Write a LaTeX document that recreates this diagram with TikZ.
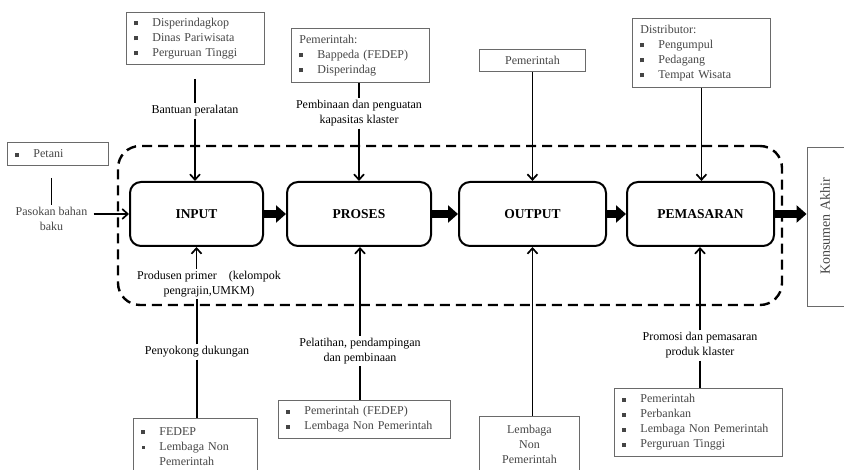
\documentclass[tikz,border=0pt]{standalone}
\usepackage{fontspec}
\setmainfont{Liberation Serif}
\usetikzlibrary{arrows.meta}
\definecolor{boxgray}{HTML}{6A6A6A}
\definecolor{txtgray}{HTML}{454545}
% square bullet and list item
\newcommand{\sqb}{\rule[1pt]{4pt}{4pt}}
\newcommand{\itm}[1]{\makebox[18pt][l]{\sqb}#1}
\newcommand{\itmsmall}[1]{\makebox[18pt][l]{\hspace*{0.5pt}\rule[1.5pt]{3pt}{3pt}}#1}
\begin{document}
\begin{tikzpicture}[x=1pt,y=-1pt,
  stage/.style={draw, line width=2pt, rounded corners=11pt, minimum height=64,
    font=\fontsize{13.5}{16}\selectfont\bfseries},
  infobox/.style={draw=boxgray, line width=0.9pt, text=txtgray,
    font=\fontsize{12}{15}\selectfont, align=left, inner xsep=8pt, inner ysep=2pt, anchor=north west},
  lbl/.style={font=\fontsize{12}{15}\selectfont, align=center, inner sep=2pt},
  conn/.style={line width=1.7pt},
  arr/.style={conn, -{Straight Barb[length=5.5pt,width=10pt]}},
  flow/.style={line width=8pt, -{Triangle[length=10pt 0 0,width=17pt 0 0]}},
  cluster/.style={draw, line width=2.4pt, dash pattern=on 10pt off 6pt, rounded corners=22pt},
]
\useasboundingbox (0,0) rectangle (844,470);

% cluster boundary
\node[cluster, minimum width=664, minimum height=159] (clu) at (450,225.5) {};

% value chain stages
\node[stage, minimum width=133] (inp) at (196.5,214) {INPUT};
\node[stage, minimum width=144] (pro) at (359,214) {PROSES};
\node[stage, minimum width=147] (out) at (532.5,214) {OUTPUT};
\node[stage, minimum width=147] (pem) at (700.5,214) {PEMASARAN};

% final consumer
\node[draw=boxgray, line width=0.9pt, minimum width=43, minimum height=159,
  font=\fontsize{14}{16}\selectfont, text=txtgray, inner sep=0pt] (kon) at (828.5,226.5)
  {\rotatebox{90}{Konsumen Akhir}\hspace*{7pt}};

% actor boxes above
\node[infobox, minimum width=138, minimum height=52, text width=122] (t1) at (126,12)
  {\itm{Disperindagkop}\\\itm{Dinas Pariwisata}\\\itm{Perguruan Tinggi}};
\node[infobox, minimum width=138, minimum height=54, text width=122] (t2) at (291,28)
  {Pemerintah:\\\itm{Bappeda (FEDEP)}\\\itm{Disperindag}};
\node[infobox, align=center, minimum width=106, minimum height=22, text width=90] (t3) at (479,49)
  {Pemerintah};
\node[infobox, minimum width=138, minimum height=69, text width=122] (t4) at (632,18)
  {Distributor:\\\itm{Pengumpul}\\\itm{Pedagang}\\\itm{Tempat Wisata}};

% supplier on the left
\node[infobox, minimum width=101, minimum height=23, text width=85, text=txtgray] (pet) at (7,142)
  {\itm{Petani}};
\node[lbl, text=txtgray] (pas) at (51.5,218.5) {Pasokan bahan\\baku};

% actor boxes below
\node[infobox, minimum width=124, minimum height=56, text width=108] (b1) at (133,418)
  {\itm{FEDEP}\\\itmsmall{Lembaga Non}\\\hspace*{18pt}Pemerintah};
\node[infobox, minimum width=172, minimum height=38, text width=156] (b2) at (278,400)
  {\itm{Pemerintah (FEDEP)}\\\itm{Lembaga Non Pemerintah}};
\node[infobox, align=center, minimum width=100, minimum height=56, text width=84] (b3) at (479,416)
  {Lembaga\\Non\\Pemerintah};
\node[infobox, minimum width=168, minimum height=68, text width=152] (b4) at (614,388)
  {\itm{Pemerintah}\\\itm{Perbankan}\\\itm{Lembaga Non Pemerintah}\\\itm{Perguruan Tinggi}};

% connector labels
\node[lbl] (l1) at (195,111) {Bantuan peralatan};
\node[lbl] (l2) at (359,113.5) {Pembinaan dan penguatan\\kapasitas klaster};
\node[lbl] (prod) at (209,284) {Produsen primer\hspace{12pt}(kelompok\\pengrajin,UMKM)};
\node[lbl] (peny) at (197,352) {Penyokong dukungan};
\node[lbl] (pel) at (360,351) {Pelatihan, pendampingan\\dan pembinaan};
\node[lbl] (prom) at (700,345.5) {Promosi dan pemasaran\\produk klaster};

% flows between stages
\draw[flow] (inp.east) -- (pro.west);
\draw[flow] (pro.east) -- (out.west);
\draw[flow] (out.east) -- (pem.west);
\draw[flow] (pem.east) -- (pem.east -| kon.west);

% support from above
\draw[conn, shorten <=14pt] (l1.north |- t1.south) -- (l1.north);
\draw[arr] (l1.south) -- (l1.south |- inp.north);
\draw[conn] (l2.north |- t2.south) -- (l2.north);
\draw[arr] (l2.south) -- (l2.south |- pro.north);
\draw[arr] (t3.south) -- (t3.south |- out.north);
\draw[arr] (t4.south) -- (t4.south |- pem.north);

% raw material supply
\draw[conn, shorten <=12pt] (pas.north |- pet.south) -- (pas.north);
\draw[arr, shorten <=4pt] (pas.east |- inp.west) -- (inp.west);

% support from below
\draw[arr] (prod.north -| inp.south) -- (inp.south);
\draw[conn] (peny.north) -- (peny.north |- prod.south);
\draw[conn] (peny.south) -- (peny.south |- b1.north);
\draw[arr] (pel.north) -- (pel.north |- pro.south);
\draw[conn] (pel.south) -- (pel.south |- b2.north);
\draw[arr] (b3.north -| out.south) -- (out.south);
\draw[arr] (prom.north) -- (prom.north |- pem.south);
\draw[conn] (prom.south) -- (prom.south |- b4.north);
\end{tikzpicture}
\end{document}
